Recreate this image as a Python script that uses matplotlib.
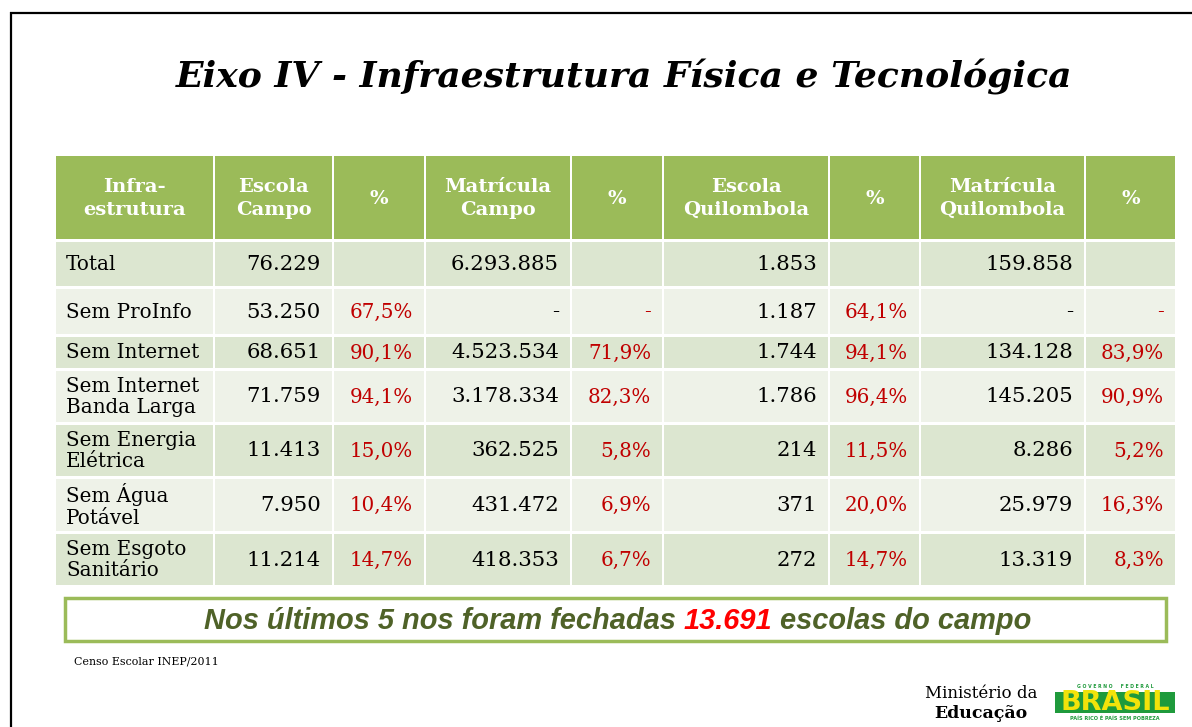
import matplotlib
matplotlib.use("Agg")
import matplotlib.pyplot as plt
from matplotlib.patches import Rectangle, Circle
from matplotlib import font_manager as fm

# ---------------- data ----------------
title = "Eixo IV - Infraestrutura Física e Tecnológica"
headers = ["Infra-\nestrutura", "Escola\nCampo", "%", "Matrícula\nCampo", "%",
           "Escola\nQuilombola", "%", "Matrícula\nQuilombola", "%"]
categories = ["Total", "Sem ProInfo", "Sem Internet", "Sem Internet\nBanda Larga",
              "Sem Energia\nElétrica", "Sem Água\nPotável", "Sem Esgoto\nSanitário"]
escola_campo = [76229, 53250, 68651, 71759, 11413, 7950, 11214]
pct_escola_campo = [None, 67.5, 90.1, 94.1, 15.0, 10.4, 14.7]
matricula_campo = [6293885, None, 4523534, 3178334, 362525, 431472, 418353]
pct_matricula_campo = [None, None, 71.9, 82.3, 5.8, 6.9, 6.7]
escola_quilombola = [1853, 1187, 1744, 1786, 214, 371, 272]
pct_escola_quilombola = [None, 64.1, 94.1, 96.4, 11.5, 20.0, 14.7]
matricula_quilombola = [159858, None, 134128, 145205, 8286, 25979, 13319]
pct_matricula_quilombola = [None, None, 83.9, 90.9, 5.2, 16.3, 8.3]
escolas_fechadas = 13691
fonte = "Censo Escolar INEP/2011"

# ---------------- layout ----------------
W, H = 1192, 727
col_edges = [55, 214, 333, 425, 571, 663, 829, 920, 1085, 1176]
header_span = (155, 240)
row_spans = [(241, 287), (288, 335), (336, 369), (370, 423), (424, 477), (478, 532), (533, 586)]
GAP = 1.0

HEADER_BG = "#9bbb59"
DARK_BG = "#dce6d0"
LIGHT_BG = "#eef2e8"
RED = "#c00000"
SERIF = ["DejaVu Serif"]


def find_sans_bold_italic():
    for f in fm.fontManager.ttflist:
        if (f.name == "Liberation Sans" and "Narrow" not in f.fname
                and f.style == "italic" and f.weight in (700, "bold")):
            return fm.FontProperties(fname=f.fname, size=19.5)
    return fm.FontProperties(family="Liberation Sans", style="italic", weight="bold", size=19.5)


BOX_FONT = find_sans_bold_italic()

fig = plt.figure(figsize=(W / 100, H / 100), dpi=100)
ax = fig.add_axes([0, 0, 1, 1])
ax.set_xlim(0, W)
ax.set_ylim(H, 0)
ax.axis("off")

# frame lines
ax.plot([10, W], [12.5, 12.5], color="black", lw=1.6, solid_capstyle="butt")
ax.plot([10.5, 10.5], [12, H], color="black", lw=1.6, solid_capstyle="butt")

# title
ax.text(624, 77, title, ha="center", va="center", fontsize=26, fontweight="bold",
        fontstyle="italic", family=SERIF, color="black")


def fmt_int(v):
    if v is None:
        return "-"
    return f"{v:,}".replace(",", ".")


def fmt_pct(p):
    if p is None:
        return "-"
    return f"{p:.1f}".replace(".", ",") + "%"


def cell(x0, x1, y0, y1, color):
    ax.add_patch(Rectangle((x0 + GAP, y0 + GAP), (x1 - x0) - 2 * GAP, (y1 - y0) - 2 * GAP,
                           facecolor=color, edgecolor="none"))


# header
for j, h in enumerate(headers):
    x0, x1 = col_edges[j], col_edges[j + 1]
    cell(x0, x1, header_span[0], header_span[1], HEADER_BG)
    ax.text((x0 + x1) / 2, (header_span[0] + header_span[1]) / 2 + 1, h, ha="center",
            va="center", fontsize=14, fontweight="bold", family=SERIF, color="white",
            linespacing=1.38)

num_cols = [escola_campo, matricula_campo, escola_quilombola, matricula_quilombola]
pct_cols = [pct_escola_campo, pct_matricula_campo, pct_escola_quilombola, pct_matricula_quilombola]

for i, cat in enumerate(categories):
    y0, y1 = row_spans[i]
    yc = (y0 + y1) / 2 + 0.5
    bg = DARK_BG if i % 2 == 0 else LIGHT_BG
    for j in range(len(headers)):
        cell(col_edges[j], col_edges[j + 1], y0, y1, bg)
    ax.text(col_edges[0] + 11, yc, cat, ha="left", va="center", fontsize=14.3,
            family=SERIF, color="black", linespacing=1.18)
    for k in range(4):
        ncol = 1 + 2 * k
        pcol = 2 + 2 * k
        ax.text(col_edges[ncol + 1] - 12, yc, fmt_int(num_cols[k][i]), ha="right",
                va="center", fontsize=15.3, family=SERIF, color="black")
        if i > 0:
            ax.text(col_edges[pcol + 1] - 12, yc, fmt_pct(pct_cols[k][i]), ha="right",
                    va="center", fontsize=14.3, family=SERIF, color=RED)

# highlight box
ax.add_patch(Rectangle((65, 598), 1101, 43, facecolor="white", edgecolor=HEADER_BG, lw=2.5))
parts = [("Nos últimos 5 nos foram fechadas ", "#4f6228"),
         (fmt_int(escolas_fechadas), "#ff0000"),
         (" escolas do campo", "#4f6228")]
fig.canvas.draw()
renderer = fig.canvas.get_renderer()
texts = []
for s, c in parts:
    t = ax.text(0, 621, s, ha="left", va="center", fontproperties=BOX_FONT, color=c)
    texts.append(t)
widths = [t.get_window_extent(renderer).width for t in texts]
target = 831.0
scale = target / sum(widths)
for t in texts:
    t.set_fontsize(19.5 * scale)
widths = [t.get_window_extent(renderer).width for t in texts]
x = 617.5 - sum(widths) / 2
for t, w in zip(texts, widths):
    t.set_x(x)
    x += w

# source
ax.text(74, 662, fonte, ha="left", va="center", fontsize=7.9, family=SERIF, color="black")

# ministry
ax.text(981, 693, "Ministério da", ha="center", va="center", fontsize=12, family=SERIF,
        color="black")
ax.text(981, 714, "Educação", ha="center", va="center", fontsize=12.5, fontweight="bold",
        family=SERIF, color="black")

# logo
ax.add_patch(Rectangle((1055, 692), 120, 21, facecolor="#1f9a3c", edgecolor="none"))
ax.text(1115, 703.5, "BRASIL", ha="center", va="center", fontsize=19.5, fontweight="bold",
        family=["DejaVu Sans"], color="#f2e30a")
ax.text(1115, 687, "G O V E R N O     F E D E R A L", ha="center", va="center",
        fontsize=3.3, family=["DejaVu Sans"], color="#1f9a3c", fontweight="bold")
ax.text(1115, 718, "PAÍS RICO É PAÍS SEM POBREZA", ha="center", va="center",
        fontsize=3.6, family=["DejaVu Sans"], color="#1f9a3c", fontweight="bold")

fig.savefig("out.png", dpi=100, facecolor="white")
